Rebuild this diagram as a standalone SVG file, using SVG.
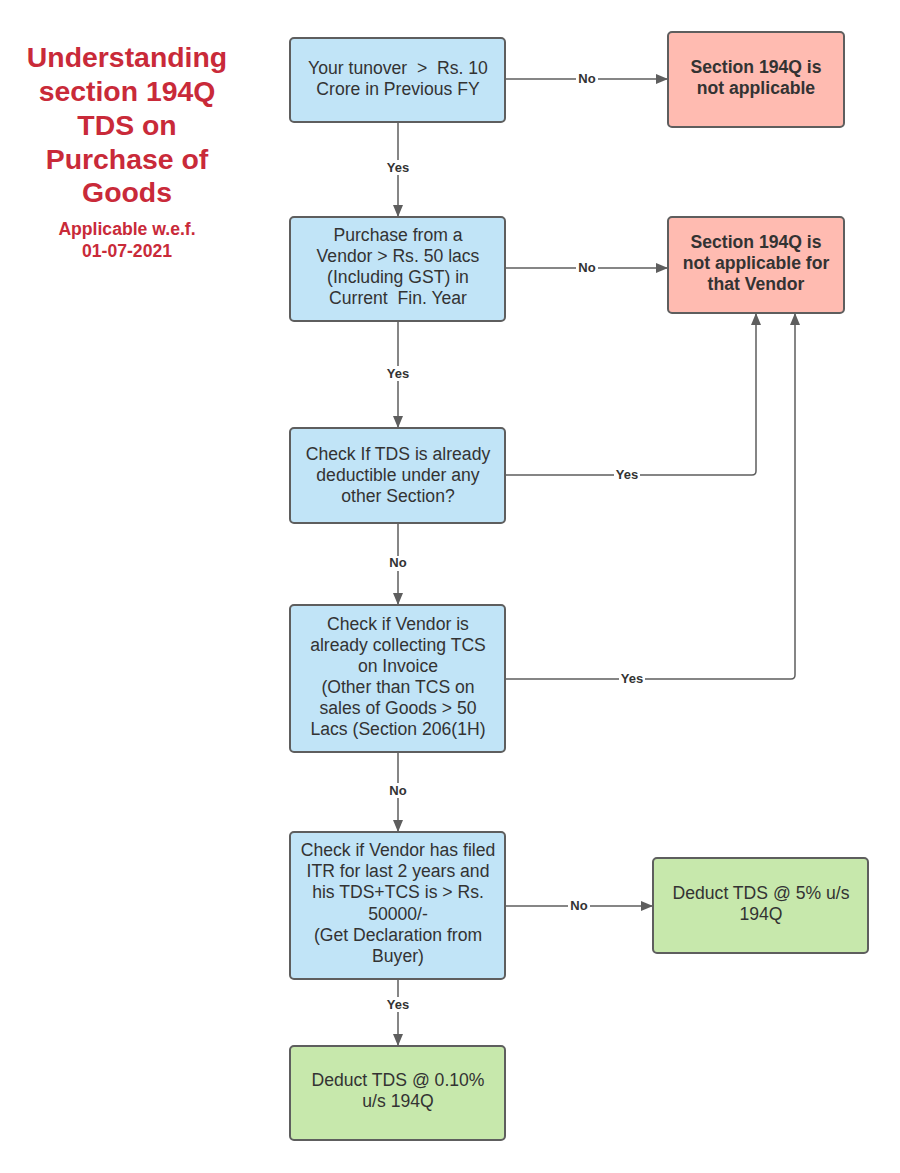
<svg xmlns="http://www.w3.org/2000/svg" width="900" height="1173" viewBox="0 0 900 1173">
<style>
.bg{fill:#ffffff}
.blue{fill:#c1e4f7;stroke:#5e5e5e;stroke-width:2}
.red{fill:#ffbbb1;stroke:#5e5e5e;stroke-width:2}
.green{fill:#c7e8ac;stroke:#5e5e5e;stroke-width:2}
.t{font-family:"Liberation Sans",Arial,sans-serif;font-size:17.6px;fill:#333333;text-anchor:middle;white-space:pre}
.tb{font-family:"Liberation Sans",Arial,sans-serif;font-size:17.6px;font-weight:bold;fill:#333333;text-anchor:middle}
.title{font-family:"Liberation Sans",Arial,sans-serif;font-size:28.4px;font-weight:bold;fill:#c92a39;text-anchor:middle}
.sub{font-family:"Liberation Sans",Arial,sans-serif;font-size:17.6px;font-weight:bold;fill:#c92a39;text-anchor:middle}
.c{fill:none;stroke:#5e5e5e;stroke-width:1.5}
.lbl{font-family:"Liberation Sans",Arial,sans-serif;font-size:13px;font-weight:bold;fill:#333333;text-anchor:middle}
.lblbg{fill:#ffffff}
</style>
<defs>
<marker id="arr" viewBox="0 0 12 10" refX="12" refY="5" markerWidth="12" markerHeight="10" markerUnits="userSpaceOnUse" orient="auto">
<path d="M0,0 L12,5 L0,10 Z" fill="#5e5e5e"/>
</marker>
</defs>
<rect class="bg" x="0" y="0" width="900" height="1173"/>

<g id="title">
<text class="title" x="127" y="67">Understanding</text>
<text class="title" x="127" y="101">section 194Q</text>
<text class="title" x="127" y="135">TDS on</text>
<text class="title" x="127" y="169">Purchase of</text>
<text class="title" x="127" y="202">Goods</text>
<text class="sub" x="127" y="235">Applicable w.e.f.</text>
<text class="sub" x="127" y="257">01-07-2021</text>
</g>

<g id="connectors">
<path class="c" d="M398,122 V217" marker-end="url(#arr)"/>
<path class="c" d="M505,79 H668" marker-end="url(#arr)"/>
<path class="c" d="M505,268 H668" marker-end="url(#arr)"/>
<path class="c" d="M398,321 V428" marker-end="url(#arr)"/>
<path class="c" d="M505,475 H752 Q756,475 756,471 V313" marker-end="url(#arr)"/>
<path class="c" d="M398,523 V605" marker-end="url(#arr)"/>
<path class="c" d="M505,679 H791 Q795,679 795,675 V313" marker-end="url(#arr)"/>
<path class="c" d="M398,752 V832" marker-end="url(#arr)"/>
<path class="c" d="M505,906 H653" marker-end="url(#arr)"/>
<path class="c" d="M398,979 V1046" marker-end="url(#arr)"/>

<rect class="lblbg" x="385" y="160" width="26" height="15"/>
<text class="lbl" x="398" y="172">Yes</text>
<rect class="lblbg" x="576" y="72" width="22" height="15"/>
<text class="lbl" x="587" y="83">No</text>
<rect class="lblbg" x="576" y="261" width="22" height="15"/>
<text class="lbl" x="587" y="272">No</text>
<rect class="lblbg" x="385" y="366" width="26" height="15"/>
<text class="lbl" x="398" y="378">Yes</text>
<rect class="lblbg" x="614" y="468" width="26" height="15"/>
<text class="lbl" x="627" y="479">Yes</text>
<rect class="lblbg" x="387" y="556" width="22" height="15"/>
<text class="lbl" x="398" y="567">No</text>
<rect class="lblbg" x="619" y="672" width="26" height="15"/>
<text class="lbl" x="632" y="683">Yes</text>
<rect class="lblbg" x="387" y="783" width="22" height="15"/>
<text class="lbl" x="398" y="795">No</text>
<rect class="lblbg" x="568" y="899" width="22" height="15"/>
<text class="lbl" x="579" y="910">No</text>
<rect class="lblbg" x="385" y="997" width="26" height="15"/>
<text class="lbl" x="398" y="1009">Yes</text>
</g>

<g id="n1">
<rect class="blue" x="290" y="38" width="215" height="84" rx="4"/>
<text class="t" x="398" y="74">Your tunover  &gt;  Rs. 10</text>
<text class="t" x="398" y="95">Crore in Previous FY</text>
</g>
<g id="n2">
<rect class="red" x="668" y="32" width="176" height="95" rx="4"/>
<text class="tb" x="756" y="73">Section 194Q is</text>
<text class="tb" x="756" y="94">not applicable</text>
</g>
<g id="n3">
<rect class="blue" x="290" y="217" width="215" height="104" rx="4"/>
<text class="t" x="398" y="241">Purchase from a</text>
<text class="t" x="398" y="262">Vendor &gt; Rs. 50 lacs</text>
<text class="t" x="398" y="283">(Including GST) in</text>
<text class="t" x="398" y="304">Current  Fin. Year</text>
</g>
<g id="n4">
<rect class="red" x="668" y="217" width="176" height="96" rx="4"/>
<text class="tb" x="756" y="248">Section 194Q is</text>
<text class="tb" x="756" y="269">not applicable for</text>
<text class="tb" x="756" y="290">that Vendor</text>
</g>
<g id="n5">
<rect class="blue" x="290" y="428" width="215" height="95" rx="4"/>
<text class="t" x="398" y="460">Check If TDS is already</text>
<text class="t" x="398" y="481">deductible under any</text>
<text class="t" x="398" y="502">other Section?</text>
</g>
<g id="n6">
<rect class="blue" x="290" y="605" width="215" height="147" rx="4"/>
<text class="t" x="398" y="630">Check if Vendor is</text>
<text class="t" x="398" y="651">already collecting TCS</text>
<text class="t" x="398" y="672">on Invoice</text>
<text class="t" x="398" y="693">(Other than TCS on</text>
<text class="t" x="398" y="714">sales of Goods &gt; 50</text>
<text class="t" x="398" y="735">Lacs (Section 206(1H)</text>
</g>
<g id="n7">
<rect class="blue" x="290" y="832" width="215" height="147" rx="4"/>
<text class="t" x="398" y="856">Check if Vendor has filed</text>
<text class="t" x="398" y="877">ITR for last 2 years and</text>
<text class="t" x="398" y="898">his TDS+TCS is &gt; Rs.</text>
<text class="t" x="398" y="920">50000/-</text>
<text class="t" x="398" y="941">(Get Declaration from</text>
<text class="t" x="398" y="962">Buyer)</text>
</g>
<g id="n8">
<rect class="green" x="653" y="858" width="215" height="95" rx="4"/>
<text class="t" x="761" y="899">Deduct TDS @ 5% u/s</text>
<text class="t" x="761" y="920">194Q</text>
</g>
<g id="n9">
<rect class="green" x="290" y="1046" width="215" height="94" rx="4"/>
<text class="t" x="398" y="1086">Deduct TDS @ 0.10%</text>
<text class="t" x="398" y="1107">u/s 194Q</text>
</g>
</svg>
